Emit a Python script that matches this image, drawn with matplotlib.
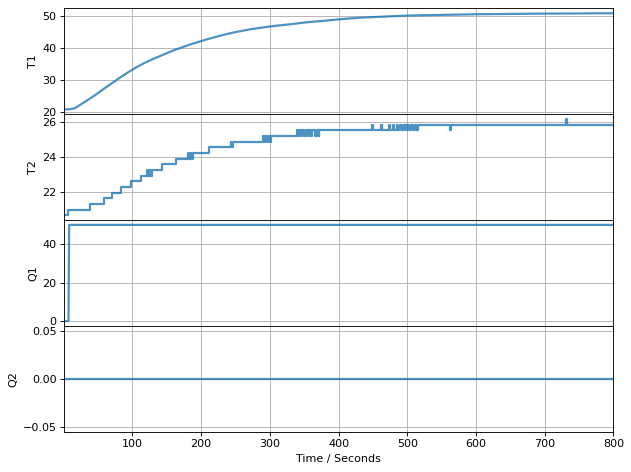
import matplotlib
matplotlib.use('Agg')
from matplotlib.pyplot import subplots

# T1
t1_time = [1, 10, 16, 20, 25, 35, 45, 57, 69, 81, 93, 105, 117, 130, 142, 154,
           166, 183, 198, 210, 222, 234, 246, 258, 270, 282, 295, 310, 328, 343,
           355, 377, 406, 430, 460, 480, 503, 525, 552, 575, 600, 625, 649, 700,
           746, 775, 800]
t1_vals = [20.7, 20.8, 21.1, 21.6, 22.3, 23.7, 25.1, 27.0, 28.8, 30.6, 32.3, 33.9,
           35.3, 36.6, 37.7, 38.8, 39.8, 41.1, 42.1, 42.9, 43.6, 44.3, 44.9, 45.4,
           45.9, 46.3, 46.7, 47.1, 47.5, 47.9, 48.2, 48.6, 49.2, 49.6, 49.9, 50.1,
           50.3, 50.4, 50.5, 50.6, 50.7, 50.75, 50.8, 50.9, 50.95, 51.0, 51.0]

# T2 change points (stepped, quantised sensor)
t2_time = [1, 6, 39, 58, 70, 83, 98, 113,
           122, 123, 125, 126, 128, 143, 163,
           181, 182, 185, 186, 188, 212,
           243, 244, 246,
           290, 291, 293, 296, 298, 300, 302,
           340, 341, 343, 345, 347, 350, 352, 355, 357, 360, 362, 366, 368, 371, 372,
           449, 450, 462, 463, 474, 475, 480, 481, 485, 487, 490, 492, 496, 498,
           500, 503, 506, 508, 511, 513, 515,
           562, 564, 731, 732, 800]
t2_vals = [20.66, 20.98, 21.30, 21.63, 21.95, 22.27, 22.59, 22.92,
           23.24, 22.92, 23.24, 22.92, 23.24, 23.56, 23.88,
           24.21, 23.88, 24.21, 23.88, 24.21, 24.53,
           24.85, 24.53, 24.85,
           25.17, 24.85, 25.17, 24.85, 25.17, 24.85, 25.17,
           25.50, 25.17, 25.50, 25.17, 25.50, 25.17, 25.50, 25.17, 25.50, 25.17,
           25.50, 25.17, 25.50, 25.17, 25.50,
           25.82, 25.50, 25.82, 25.50, 25.82, 25.50, 25.82, 25.50, 25.82, 25.50,
           25.82, 25.50, 25.82, 25.50, 25.82, 25.50, 25.82, 25.50, 25.82, 25.50, 25.82,
           25.50, 25.82, 26.14, 25.82, 25.82]

q1_time = [1, 7, 8, 800]
q1_vals = [0, 0, 50, 50]

q2_time = [1, 800]
q2_vals = [0, 0]

fig, axes = subplots(4, 1, sharex=True, figsize=(631 / 80, 472 / 80), dpi=80)
fig.subplots_adjust(left=0.102, right=0.972, top=0.982, bottom=0.0854, hspace=0)

style = dict(color='C0', alpha=0.8, linewidth=2)

axes[0].plot(t1_time, t1_vals, **style)
axes[1].plot(t2_time, t2_vals, drawstyle='steps-post', **style)
axes[2].plot(q1_time, q1_vals, **style)
axes[3].plot(q2_time, q2_vals, **style)

for ax, name in zip(axes, ['T1', 'T2', 'Q1', 'Q2']):
    ax.set_ylabel(name)
    ax.grid(True)

axes[1].set_yticks([22, 24, 26])
axes[3].set_xlim(1, 800)
axes[3].set_xlabel('Time / Seconds')

fig.savefig('out.png')
